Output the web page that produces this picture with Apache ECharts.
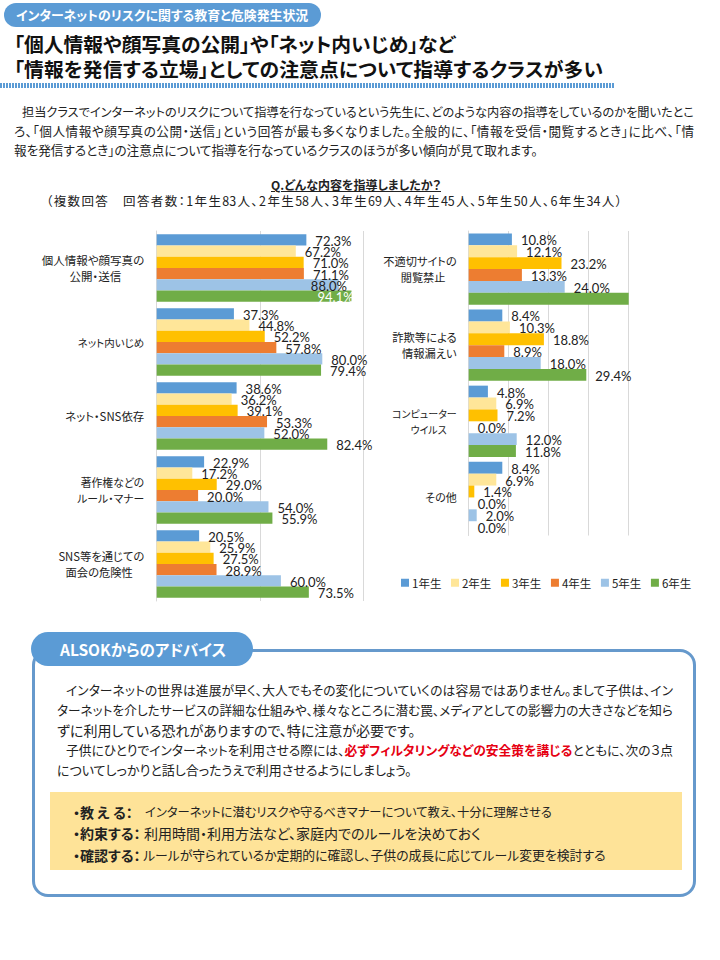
<!DOCTYPE html>
<html lang="ja"><head><meta charset="utf-8">
<script src="https://cdn.jsdelivr.net/npm/echarts@6/dist/echarts.min.js"></script>
<style>
html,body{margin:0;padding:0;background:#fff}
body{width:720px;height:960px;position:relative;overflow:hidden;font-family:"Noto Sans CJK JP",sans-serif;color:#222;font-feature-settings:"palt";}
#chart{position:absolute;left:0;top:0;width:720px;height:960px;font-feature-settings:"palt"}
.t{position:absolute;white-space:nowrap;line-height:20px}
.j{text-align:justify;text-align-last:justify}
.b{font-weight:700}
#pill{position:absolute;left:4px;top:3px;width:317px;height:24px;background:#5B9BD5;border-radius:12px;}
#rule{position:absolute;left:0;top:83px;width:614px;height:5px;background:repeating-linear-gradient(90deg,#5B9BD5 0 2px,#fff 2px 3px)}
#box{position:absolute;left:32px;top:649px;width:658px;height:242px;border:3px solid #6699CC;border-radius:16px;box-sizing:content-box}
#pill2{position:absolute;left:31px;top:632px;width:222px;height:34px;background:#5B9BD5;border-radius:17px}
#note{position:absolute;left:50px;top:792px;width:632px;height:78px;background:#FEE398}
</style></head><body>
<div id="pill"></div><div id="rule"></div><div id="box"></div><div id="pill2"></div><div id="note"></div>
<div id="chart"></div>
<div class="t b" style="left:16px;top:5px;font-size:12.9px;color:#fff">インターネットのリスクに関する教育と危険発生状況</div>
<div class="t b j" style="left:14px;top:32px;width:441px;font-size:19.8px;line-height:24px;color:#111">「個人情報や顔写真の公開」や「ネット内いじめ」など</div>
<div class="t b j" style="left:14px;top:57px;width:589px;font-size:19.8px;line-height:24px;color:#111">「情報を発信する立場」としての注意点について指導するクラスが多い</div>
<div class="t j" style="left:22px;top:102px;width:672px;font-size:12.2px">担当クラスでインターネットのリスクについて指導を行なっているという先生に、どのような内容の指導をしているのかを聞いたとこ</div>
<div class="t j" style="left:14px;top:121px;width:680px;font-size:12.6px">ろ、「個人情報や顔写真の公開・送信」という回答が最も多くなりました。全般的に、「情報を受信・閲覧するとき」に比べ、「情</div>
<div class="t" style="left:14px;top:140px;font-size:12.6px">報を発信するとき」の注意点について指導を行なっているクラスのほうが多い傾向が見て取れます。</div>
<div class="t b" style="left:271px;top:175px;font-size:12px;text-decoration:underline">Q.どんな内容を指導しましたか？</div>
<div class="t j" style="left:46px;top:191px;width:576px;font-size:12.5px">（複数回答　回答者数：1年生83人、2年生58人、3年生69人、4年生45人、5年生50人、6年生34人）</div>
<div class="t b" style="left:60px;top:639px;font-size:15.5px;color:#fff">ALSOKからのアドバイス</div>
<div class="t j" style="left:66px;top:680px;width:607px;font-size:12.75px">インターネットの世界は進展が早く、大人でもその変化についていくのは容易ではありません。まして子供は、イン</div>
<div class="t j" style="left:57px;top:700px;width:616px;font-size:12.65px">ターネットを介したサービスの詳細な仕組みや、様々なところに潜む罠、メディアとしての影響力の大きさなどを知ら</div>
<div class="t" style="left:57px;top:720px;font-size:14px">ずに利用している恐れがありますので、特に注意が必要です。</div>
<div class="t j" style="left:66px;top:740px;width:607px;font-size:12.75px">子供にひとりでインターネットを利用させる際には、<span class="b" style="color:#E60012">必ずフィルタリングなどの安全策を講じる</span>とともに、次の３点</div>
<div class="t" style="left:57px;top:760px;font-size:13px">についてしっかりと話し合ったうえで利用させるようにしましょう。</div>
<div class="t b" style="left:73px;top:802px;font-size:14px">・教 え る：</div>
<div class="t" style="left:145px;top:802px;font-size:12.3px">インターネットに潜むリスクや守るべきマナーについて教え、十分に理解させる</div>
<div class="t b" style="left:73px;top:823px;font-size:14px">・約束する：</div>
<div class="t" style="left:144px;top:823px;font-size:14px">利用時間・利用方法など、家庭内でのルールを決めておく</div>
<div class="t b" style="left:73px;top:845px;font-size:14px">・確認する：</div>
<div class="t" style="left:143px;top:845px;font-size:12.85px">ルールが守られているか定期的に確認し、子供の成長に応じてルール変更を検討する</div>
<script>
const grades = ['1年生','2年生','3年生','4年生','5年生','6年生'];
const colors = ['#5B9BD5','#FFE699','#FFC000','#ED7D31','#9DC3E6','#70AD47'];
const leftCategories = ['個人情報や顔写真の\n公開・送信　　','ネット内いじめ','ネット・SNS依存','著作権などの\nルール・マナー','SNS等を通じての\n面会の危険性　'];
const rightCategories = ['不適切サイトの\n閲覧禁止　','詐欺等による\n情報漏えい','コンピューター\nウイルス　','その他'];
const left1 = [72.3,37.3,38.6,22.9,20.5];
const left2 = [67.2,44.8,36.2,17.2,25.9];
const left3 = [71.0,52.2,39.1,29.0,27.5];
const left4 = [71.1,57.8,53.3,20.0,28.9];
const left5 = [88.0,80.0,52.0,54.0,60.0];
const left6 = [94.1,79.4,82.4,55.9,73.5];
const right1 = [10.8,8.4,4.8,8.4];
const right2 = [12.1,10.3,6.9,6.9];
const right3 = [23.2,18.8,7.2,1.4];
const right4 = [13.3,8.9,0.0,0.0];
const right5 = [24.0,18.0,12.0,2.0];
const right6 = [40.0,29.4,11.8,0.0];
const leftSets = [left1,left2,left3,left4,left5,left6];
const rightSets = [right1,right2,right3,right4,right5,right6];
const font = '"Noto Sans CJK JP",sans-serif';
const leftLabelSizes = [11.5,10.5,11.4,10.8,11.3];
const rightLabelSizes = [11.2,11.3,10,11];

function itemLabel(side, g, i){
  if(side==='L' && g===4 && i===0) return {offset:[-37,1]};
  if(side==='L' && g===5 && i===0) return {offset:[-43,1],color:'#fff'};
  if(side==='R' && g===5 && i===0) return {show:false};
  return null;
}
function makeSeries(sets, axisIdx, side, gap){
  return sets.map((vals,g)=>({
    name:grades[g], type:'bar', xAxisIndex:axisIdx, yAxisIndex:axisIdx,
    barGap:0, barCategoryGap:gap, itemStyle:{color:colors[g]},
    label:{show:true,position:'right',distance:9,offset:[0,1],fontFamily:'Lato,'+font,fontSize:13,color:'#222',
      formatter:p=>p.value.toFixed(1)+'%'},
    data:vals.map((v,i)=>{const l=itemLabel(side,g,i);return l?{value:v,label:l}:v;})
  }));
}
const axisX = (idx,max,step)=>({gridIndex:idx,type:'value',min:0,max:max,interval:step,
  axisLabel:{show:false},axisLine:{show:false},axisTick:{show:false},
  splitLine:{show:true,lineStyle:{color:'#D9D9D9',width:1}}});
const axisY = (idx,cats,sizes,margin)=>({gridIndex:idx,type:'category',inverse:true,
  data:cats.map((c,i)=>({value:c,textStyle:{fontSize:sizes[i]}})),
  axisTick:{show:false},axisLine:{show:true,lineStyle:{color:'#D9D9D9',width:1}},
  axisLabel:{margin:margin,fontFamily:font,fontSize:11.5,lineHeight:16,color:'#222',interval:0}});
const chart = echarts.init(document.getElementById('chart'),null,{renderer:'svg',width:720,height:960});
chart.setOption({
  animation:false,
  textStyle:{fontFamily:font},
  legend:{data:grades,left:401,top:577,padding:0,itemWidth:8,itemHeight:8,itemGap:9.6,icon:'rect',
    textStyle:{fontFamily:font,fontSize:11.5,color:'#222',padding:[0,0,0,-2]}},
  grid:[{left:156.7,top:231,width:207,height:370},{left:468.7,top:231,width:160,height:304.5}],
  xAxis:[axisX(0,100,50),axisX(1,40,10)],
  yAxis:[axisY(0,leftCategories,leftLabelSizes,12.5),axisY(1,rightCategories,rightLabelSizes,12)],
  series:[...makeSeries(leftSets,0,'L','8.5%'),...makeSeries(rightSets,1,'R','6.3%')]
});
</script>
</body></html>
